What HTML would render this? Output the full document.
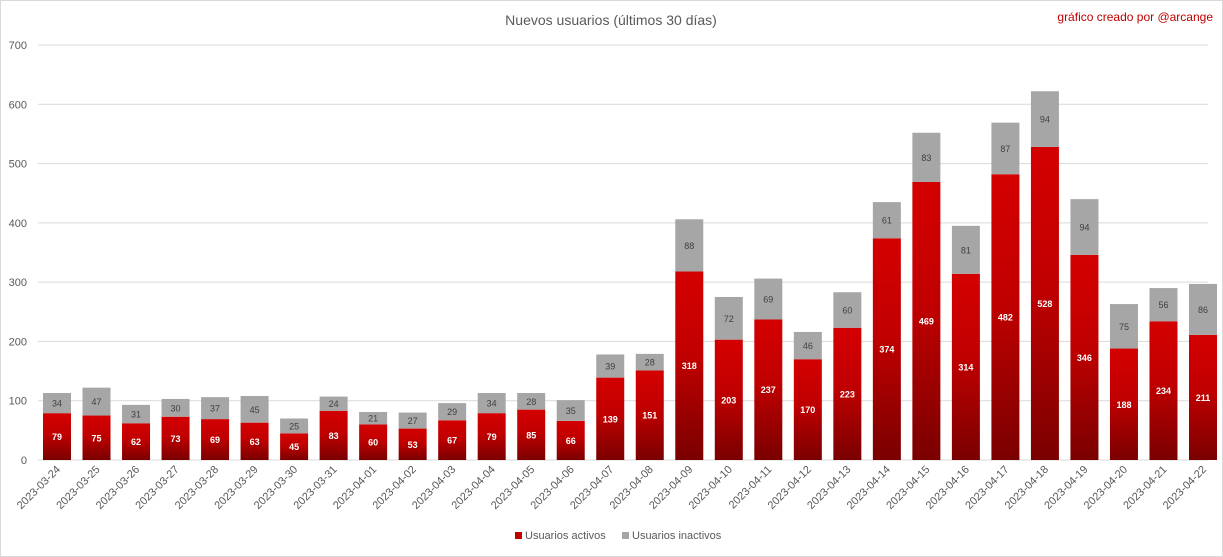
<!DOCTYPE html>
<html><head><meta charset="utf-8"><style>
body{margin:0;background:#fff;font-family:"Liberation Sans",Calibri,sans-serif}
svg{display:block}
</style></head><body>
<svg width="1223" height="557" viewBox="0 0 1223 557" xmlns="http://www.w3.org/2000/svg" font-family="Liberation Sans, sans-serif">
<defs>
<linearGradient id="rg" x1="0" y1="0" x2="0" y2="1">
<stop offset="0" stop-color="#d40000"/><stop offset="0.45" stop-color="#c00000"/><stop offset="1" stop-color="#7a0000"/>
</linearGradient>
</defs>
<rect x="0.5" y="0.5" width="1222" height="556" fill="#fff" stroke="#d9d9d9"/>
<text x="611" y="25" text-anchor="middle" font-size="14" fill="#595959">Nuevos usuarios (últimos 30 días)</text>
<text x="1213" y="21" text-anchor="end" font-size="12" fill="#c00000">gráfico creado por @arcange</text>
<g id="grid"></g><g id="bars"></g><g id="xlabels"></g>
<g>
<rect x="515" y="532" width="7" height="7" fill="#c00000"/>
<text x="525" y="539" font-size="11" fill="#595959">Usuarios activos</text>
<rect x="622" y="532" width="7" height="7" fill="#a6a6a6"/>
<text x="632" y="539" font-size="11" fill="#595959">Usuarios inactivos</text>
</g>
</svg>
<script>
const categories=["2023-03-24","2023-03-25","2023-03-26","2023-03-27","2023-03-28","2023-03-29","2023-03-30","2023-03-31","2023-04-01","2023-04-02","2023-04-03","2023-04-04","2023-04-05","2023-04-06","2023-04-07","2023-04-08","2023-04-09","2023-04-10","2023-04-11","2023-04-12","2023-04-13","2023-04-14","2023-04-15","2023-04-16","2023-04-17","2023-04-18","2023-04-19","2023-04-20","2023-04-21","2023-04-22"];
const activos=[79,75,62,73,69,63,45,83,60,53,67,79,85,66,139,151,318,203,237,170,223,374,469,314,482,528,346,188,234,211];
const inactivos=[34,47,31,30,37,45,25,24,21,27,29,34,28,35,39,28,88,72,69,46,60,61,83,81,87,94,94,75,56,86];
const yTicks=[0,100,200,300,400,500,600,700];
const NS="http://www.w3.org/2000/svg";
const y0=460,yPer=(460-45)/700;
const yS=v=>y0-v*yPer;
const xS=i=>57+i*(1203-57)/29;
const bw=28;
function mk(t,a,p){const e=document.createElementNS(NS,t);for(const k in a)e.setAttribute(k,a[k]);p.appendChild(e);return e;}
const grid=document.getElementById('grid'),bars=document.getElementById('bars'),xl=document.getElementById('xlabels');
yTicks.forEach(v=>{
 const l=mk('line',{x1:38,x2:1208,y1:yS(v),y2:yS(v),stroke:'#d9d9d9','stroke-width':1},grid);
 
 
 const t=mk('text',{x:27,y:yS(v)+4,'text-anchor':'end','font-size':11,fill:'#595959'},grid);
 t.textContent=v;
 
 
});
categories.forEach((c,i)=>{
 const x=xS(i)-bw/2,a=activos[i],n=inactivos[i];
 const r=mk('rect',{x:x,y:yS(a),width:bw,height:a*yPer,fill:'url(#rg)'},bars);
 
 
 const g=mk('rect',{x:x,y:yS(a+n),width:bw,height:n*yPer,fill:'#a6a6a6'},bars);
 
 
 const t1=mk('text',{x:xS(i),y:yS(a/2)+3.5,'text-anchor':'middle','font-size':9,'font-weight':'bold',fill:'#fff'},bars);
 t1.textContent=a;
 
 
 const t2=mk('text',{x:xS(i),y:yS(a+n/2)+3.5,'text-anchor':'middle','font-size':9,fill:'#404040'},bars);
 t2.textContent=n;
 
 
 const tx=mk('text',{x:0,y:0,'text-anchor':'end','font-size':11,fill:'#595959',transform:`translate(${xS(i)+4},${470}) rotate(-45)`},xl);
 tx.textContent=c;
 
 
});
</script>
</body></html>
